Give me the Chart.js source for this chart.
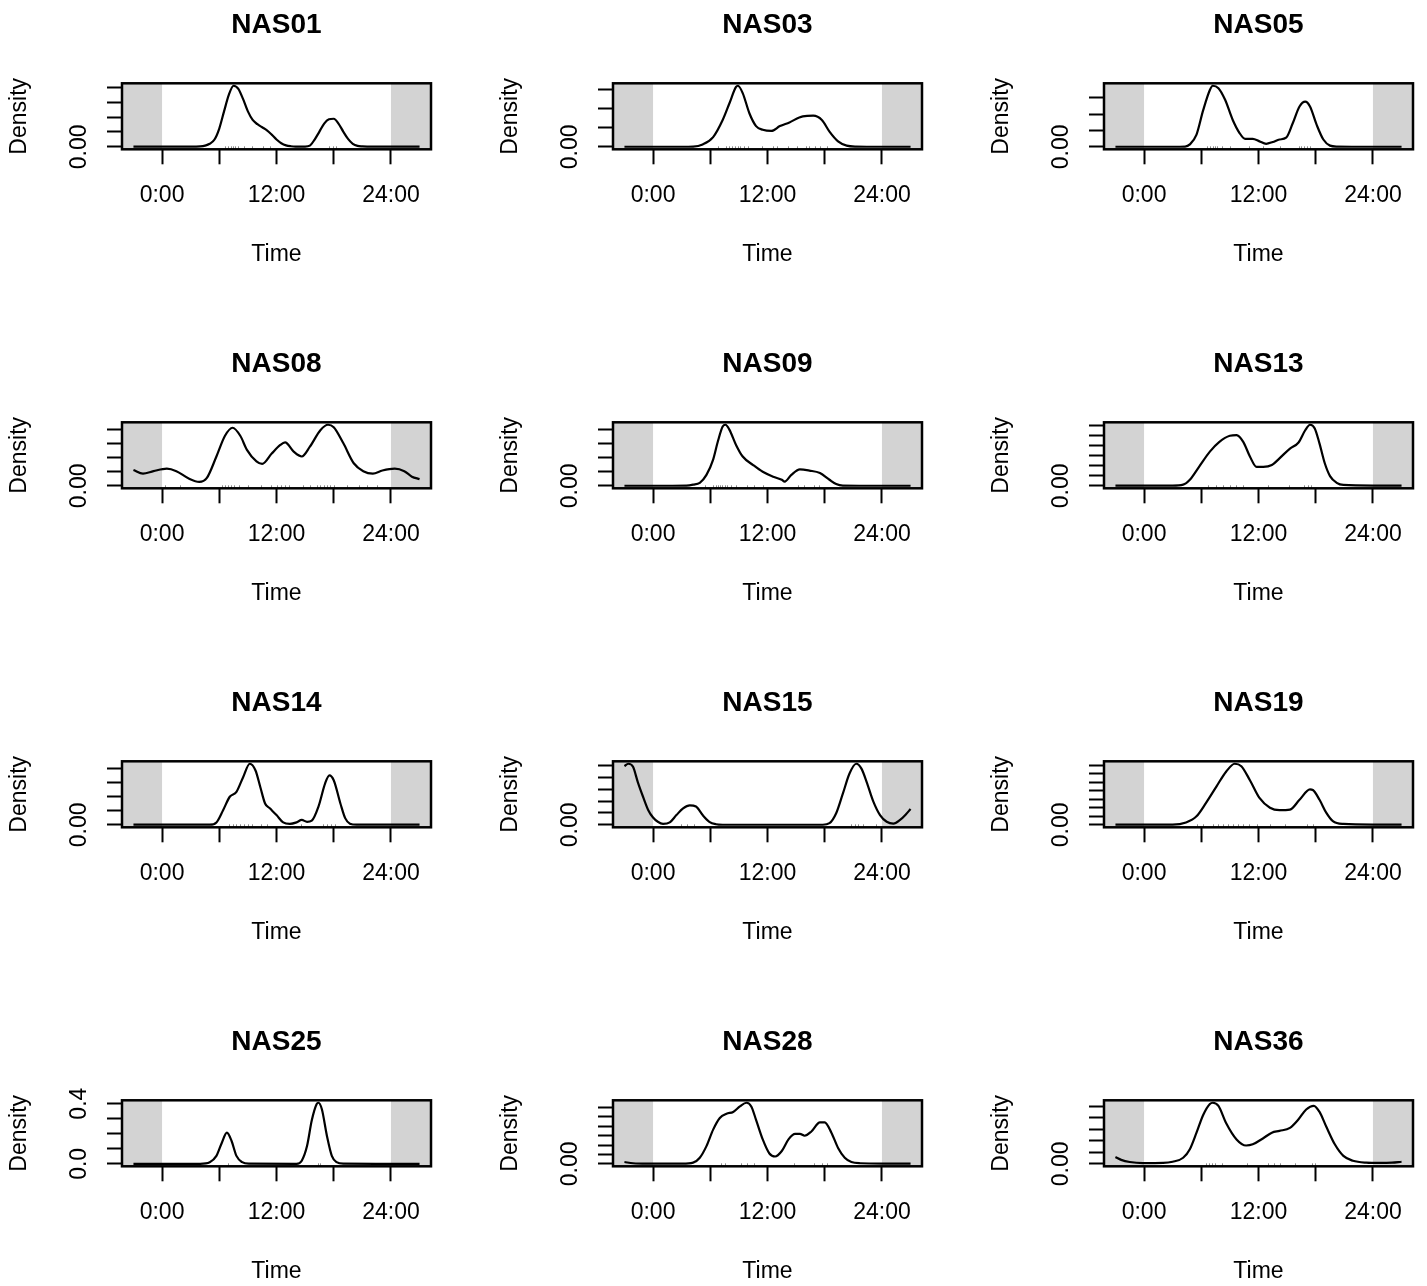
<!DOCTYPE html>
<html>
<head>
<meta charset="utf-8">
<script src="https://cdn.jsdelivr.net/npm/chart.js@4.4.1/dist/chart.umd.min.js"></script>
<style>
  html, body { margin: 0; padding: 0; background: #ffffff; overflow: hidden; width: 1427px; height: 1286px; }
  canvas { position: absolute; }
</style>
</head>
<body>
<script>
// ---- panel titles, in reading order (4 rows x 3 columns) ----
const panelNames = ['NAS01', 'NAS03', 'NAS05', 'NAS08', 'NAS09', 'NAS13',
                    'NAS14', 'NAS15', 'NAS19', 'NAS25', 'NAS28', 'NAS36'];

// ---- x axis: clock time in hours ----
const hourTicks = [0, 6, 12, 18, 24];
const hourTickLabels = ['0:00', '', '12:00', '', '24:00'];

// ---- activity density curves (hours, density per hour) ----
const nas01Hours = [-3, 0, 3, 4, 4.5, 5, 5.5, 6, 6.5, 7, 7.5, 8, 8.5, 9, 9.5, 10, 10.5, 11, 11.5, 12, 12.5, 13, 13.5, 14, 15, 15.5, 16, 16.5, 17, 17.5, 18, 18.5, 19, 19.5, 20, 20.5, 21, 22, 24, 27];
const nas01Density = [0.0006, 0.0006, 0.0006, 0.0016, 0.0041, 0.0103, 0.0246, 0.0615, 0.1189, 0.1743, 0.205, 0.1948, 0.1599, 0.1189, 0.0902, 0.0759, 0.0656, 0.0554, 0.041, 0.0246, 0.0123, 0.0051, 0.0021, 0.001, 0.001, 0.0041, 0.0246, 0.0513, 0.0779, 0.0923, 0.0943, 0.0779, 0.0513, 0.0267, 0.0103, 0.0031, 0.0016, 0.0006, 0.0006, 0.0006];

const nas03Hours = [-3, 0, 3, 4.2, 5.2, 6.3, 7.3, 8.0, 8.7, 8.9, 9.4, 10.1, 10.8, 11.5, 12.4, 13.3, 14.3, 15.7, 16.8, 17.7, 18.5, 19.4, 20.3, 21.3, 24, 27];
const nas03Density = [0.0003, 0.0003, 0.0003, 0.0008, 0.0064, 0.0256, 0.0704, 0.1136, 0.1568, 0.16, 0.1408, 0.088, 0.0544, 0.0448, 0.0416, 0.0544, 0.064, 0.08, 0.0816, 0.0704, 0.04, 0.0144, 0.0032, 0.0008, 0.0003, 0.0003];

const nas05Hours = [-3, 0, 3, 4.3, 4.8, 5.5, 6.2, 6.9, 7.2, 7.8, 8.5, 9.3, 10.0, 10.6, 11.4, 12.1, 12.8, 13.5, 14.2, 14.9, 15.6, 16.3, 16.9, 17.4, 18.1, 18.8, 19.5, 20.2, 24, 27];
const nas05Density = [0.0003, 0.0003, 0.0003, 0.0009, 0.0075, 0.0375, 0.1125, 0.1744, 0.1875, 0.18, 0.1444, 0.0825, 0.0431, 0.0244, 0.0244, 0.0169, 0.0094, 0.015, 0.0225, 0.0281, 0.0731, 0.1238, 0.1388, 0.1238, 0.0675, 0.0225, 0.0038, 0.0009, 0.0003, 0.0003];

const nas08Hours = [-3, -2, -0.9, 0.5, 1.5, 2.8, 3.9, 4.7, 5.7, 6.6, 7.4, 8.2, 8.9, 9.9, 10.5, 11.5, 12.4, 12.9, 13.8, 14.65, 15.5, 16.6, 17.4, 18.0, 19.0, 20.1, 21.1, 22.1, 23.1, 24.4, 25.4, 26.2, 27];
const nas08Density = [0.0226, 0.0174, 0.0209, 0.0244, 0.0209, 0.0104, 0.0056, 0.0113, 0.0418, 0.0713, 0.0827, 0.0713, 0.0513, 0.0348, 0.0313, 0.0461, 0.0583, 0.0618, 0.0487, 0.0418, 0.0557, 0.0792, 0.087, 0.0835, 0.0609, 0.0322, 0.0209, 0.0174, 0.0218, 0.0244, 0.0209, 0.0131, 0.0096];

const nas09Hours = [-3, 0, 3.5, 4.2, 4.9, 5.6, 6.3, 6.8, 7.3, 7.6, 8.0, 8.7, 9.4, 10.5, 11.5, 12.6, 13.5, 13.8, 14.5, 15.4, 16.4, 17.5, 18.5, 19.2, 19.9, 24, 27];
const nas09Density = [0.0004, 0.0004, 0.0011, 0.0044, 0.0109, 0.0392, 0.0937, 0.1591, 0.2115, 0.218, 0.2006, 0.1461, 0.1046, 0.0741, 0.0501, 0.0327, 0.0218, 0.0153, 0.0392, 0.0589, 0.0545, 0.0458, 0.0218, 0.0065, 0.0011, 0.0004, 0.0004];

const nas13Hours = [-3, 0, 3.0, 4.1, 4.8, 5.8, 6.9, 7.9, 9.0, 9.7, 10.4, 11.1, 11.8, 12.5, 13.4, 14.2, 15.3, 16.2, 16.9, 17.4, 17.9, 18.4, 18.95, 19.5, 20.2, 20.9, 24, 27];
const nas13Density = [0.0006, 0.0006, 0.0006, 0.0024, 0.0122, 0.039, 0.0683, 0.0878, 0.1, 0.1013, 0.0878, 0.0586, 0.0378, 0.0378, 0.0415, 0.0549, 0.0744, 0.0866, 0.111, 0.122, 0.1147, 0.0842, 0.0451, 0.0195, 0.0061, 0.0018, 0.0006, 0.0006];

const nas14Hours = [-3, 0, 5.0, 5.7, 6.4, 7.1, 7.8, 8.5, 9.2, 9.8, 10.3, 10.8, 11.3, 12.0, 12.7, 13.4, 14.1, 14.65, 15.2, 15.7, 16.4, 17.1, 17.55, 18.0, 18.7, 19.2, 19.7, 20.4, 24, 27];
const nas14Density = [0.0006, 0.0006, 0.0006, 0.0086, 0.0516, 0.0989, 0.1161, 0.1677, 0.215, 0.1914, 0.1333, 0.0753, 0.0581, 0.0344, 0.0086, 0.0034, 0.0086, 0.0172, 0.0108, 0.0151, 0.0645, 0.1462, 0.1742, 0.157, 0.0753, 0.0237, 0.0043, 0.0006, 0.0006, 0.0006];

const nas15Hours = [-3, -2.6, -2.1, -1.6, -1.05, -0.5, 0, 0.5, 1.05, 1.75, 2.45, 3.15, 3.85, 4.5, 5.2, 5.9, 6.6, 7.3, 17.8, 18.5, 19.2, 19.9, 20.6, 21.3, 21.85, 22.4, 23.1, 23.8, 24.5, 25.2, 25.9, 26.5, 27];
const nas15Density = [0.2467, 0.257, 0.2442, 0.1799, 0.1182, 0.0617, 0.0308, 0.0129, 0.0041, 0.0103, 0.0411, 0.0694, 0.0822, 0.0771, 0.0411, 0.0129, 0.0026, 0.0005, 0.0005, 0.0069, 0.0488, 0.1311, 0.2159, 0.257, 0.2364, 0.1799, 0.0977, 0.0411, 0.0129, 0.0051, 0.0206, 0.0437, 0.0668];

const nas19Hours = [-3, 0, 3.0, 4.4, 5.5, 6.5, 7.6, 8.6, 9.5, 10.2, 11.1, 12.1, 13.2, 14.2, 15.3, 16.3, 17.4, 17.7, 18.4, 19.1, 19.8, 20.9, 24, 27];
const nas19Density = [0.0007, 0.0007, 0.0007, 0.0057, 0.02, 0.0515, 0.0901, 0.1244, 0.143, 0.1373, 0.1044, 0.0629, 0.04, 0.0343, 0.0358, 0.0586, 0.0829, 0.0815, 0.0586, 0.0286, 0.0086, 0.0021, 0.0007, 0.0007];

const nas25Hours = [-3, 0, 4.0, 5.0, 5.7, 6.26, 6.8, 7.3, 7.8, 8.4, 9.1, 14.1, 14.65, 15.2, 15.7, 16.2, 16.4, 16.75, 17.3, 17.8, 18.3, 19.0, 24, 27];
const nas25Density = [0.0005, 0.0005, 0.0005, 0.011, 0.053, 0.139, 0.207, 0.15, 0.053, 0.011, 0.001, 0.0005, 0.021, 0.118, 0.289, 0.396, 0.406, 0.364, 0.182, 0.053, 0.011, 0.001, 0.0005, 0.0005];

const nas28Hours = [-3, -2.1, -0.7, 3.1, 4.2, 4.9, 5.6, 6.3, 7.0, 7.7, 8.4, 9.1, 9.8, 10.3, 10.8, 11.5, 12.2, 12.8, 13.5, 14.2, 14.9, 15.4, 15.9, 16.6, 17.5, 18.0, 18.7, 19.4, 20.1, 20.8, 21.7, 24, 27];
const nas28Density = [0.0039, 0.0013, 0.0004, 0.0004, 0.0026, 0.013, 0.0377, 0.0728, 0.0975, 0.1066, 0.1105, 0.1222, 0.13, 0.1222, 0.0936, 0.052, 0.0221, 0.0156, 0.0273, 0.052, 0.0637, 0.0637, 0.0598, 0.0689, 0.0884, 0.0884, 0.0663, 0.0338, 0.013, 0.0039, 0.0013, 0.0007, 0.0007];

const nas36Hours = [-3, -2.4, -1.5, -0.1, 2.0, 3.0, 4.1, 4.8, 5.5, 6.2, 6.9, 7.2, 7.8, 8.6, 9.7, 10.7, 11.4, 12.5, 13.4, 14.2, 15.3, 16.2, 17.0, 17.8, 18.4, 19.1, 20.0, 20.9, 21.9, 23.3, 24.7, 26.0, 27];
const nas36Density = [0.0117, 0.0069, 0.0032, 0.0013, 0.0016, 0.0037, 0.0106, 0.0254, 0.0541, 0.0848, 0.1039, 0.106, 0.1007, 0.071, 0.0424, 0.0318, 0.0339, 0.0445, 0.0541, 0.0572, 0.0625, 0.0774, 0.0943, 0.1007, 0.0901, 0.0647, 0.0339, 0.0138, 0.0053, 0.0021, 0.0016, 0.0021, 0.0037];

// ---- recorded detection times (rug along the bottom) ----
const nas01Rug = [6.6, 6.9, 7.2, 7.4, 7.7, 8.0, 8.6, 9.4, 10.6, 11.3, 17.5, 17.9, 18.2];
const nas03Rug = [6.8, 7.6, 8.0, 8.3, 8.6, 8.9, 9.1, 9.5, 10.0, 11.4, 12.6, 13.0, 14.2, 15.1, 16.0, 16.4, 17.0, 17.5, 18.2];
const nas05Rug = [6.6, 6.9, 7.2, 7.4, 7.7, 8.2, 9.0, 11.0, 12.5, 14.3, 16.2, 16.5, 16.8, 17.1, 17.4];
const nas08Rug = [0.3, 1.9, 6.3, 6.6, 6.9, 7.2, 7.5, 8.1, 9.0, 10.4, 11.4, 12.1, 12.5, 12.9, 13.3, 14.8, 15.5, 16.2, 16.6, 17.0, 17.3, 17.6, 18.0, 19.4, 20.6, 21.5, 22.5];
const nas09Rug = [5.4, 6.3, 6.6, 6.8, 7.0, 7.2, 7.5, 7.8, 8.2, 8.7, 9.8, 10.6, 11.5, 15.2, 15.8, 16.9, 17.4];
const nas13Rug = [6.7, 7.5, 8.3, 9.0, 9.6, 10.4, 13.0, 15.2, 16.8, 17.2, 17.5];
const nas14Rug = [7.0, 7.4, 7.8, 8.2, 8.6, 9.0, 9.4, 10.4, 11.0, 14.6, 16.9, 17.3, 17.7, 18.1];
const nas15Rug = [2.9, 3.6, 4.3, 20.8, 21.2, 21.5, 22.0, 23.4];
const nas19Rug = [5.5, 6.2, 7.2, 7.8, 8.3, 8.8, 9.3, 9.8, 10.4, 11.0, 11.8, 13.2, 14.8, 17.1, 17.7];
const nas25Rug = [6.9, 16.4, 16.6];
const nas28Rug = [7.1, 7.5, 9.2, 9.8, 10.6, 14.8, 16.9, 17.7, 18.2];
const nas36Rug = [6.5, 6.8, 7.1, 7.4, 8.2, 10.8, 13.0, 13.6, 14.3, 15.8, 17.6, 17.9];

// ---- y axis tick positions per panel ----
const yTicksNAS01 = [0, 0.05, 0.1, 0.15, 0.2];
const yTicksNAS03 = [0, 0.05, 0.1, 0.15];
const yTicksNAS05 = [0, 0.05, 0.1, 0.15];
const yTicksNAS08 = [0, 0.02, 0.04, 0.06, 0.08];
const yTicksNAS09 = [0, 0.05, 0.1, 0.15, 0.2];
const yTicksNAS13 = [0, 0.02, 0.04, 0.06, 0.08, 0.1, 0.12];
const yTicksNAS14 = [0, 0.05, 0.1, 0.15, 0.2];
const yTicksNAS15 = [0, 0.05, 0.1, 0.15, 0.2, 0.25];
const yTicksNAS19 = [0, 0.02, 0.04, 0.06, 0.08, 0.1, 0.12, 0.14];
const yTicksNAS25 = [0, 0.1, 0.2, 0.3, 0.4];
const yTicksNAS28 = [0, 0.02, 0.04, 0.06, 0.08, 0.1, 0.12];
const yTicksNAS36 = [0, 0.02, 0.04, 0.06, 0.08, 0.1];

// only the non-overlapping y labels are printed
const yLabelValuesDefault = [0];
const yLabelTextsDefault = ['0.00'];
const yLabelValuesNAS25 = [0, 0.4];
const yLabelTextsNAS25 = ['0.0', '0.4'];

const panels = [
  { hours: nas01Hours, density: nas01Density, rug: nas01Rug, yTicks: yTicksNAS01 },
  { hours: nas03Hours, density: nas03Density, rug: nas03Rug, yTicks: yTicksNAS03 },
  { hours: nas05Hours, density: nas05Density, rug: nas05Rug, yTicks: yTicksNAS05 },
  { hours: nas08Hours, density: nas08Density, rug: nas08Rug, yTicks: yTicksNAS08 },
  { hours: nas09Hours, density: nas09Density, rug: nas09Rug, yTicks: yTicksNAS09 },
  { hours: nas13Hours, density: nas13Density, rug: nas13Rug, yTicks: yTicksNAS13 },
  { hours: nas14Hours, density: nas14Density, rug: nas14Rug, yTicks: yTicksNAS14 },
  { hours: nas15Hours, density: nas15Density, rug: nas15Rug, yTicks: yTicksNAS15 },
  { hours: nas19Hours, density: nas19Density, rug: nas19Rug, yTicks: yTicksNAS19 },
  { hours: nas25Hours, density: nas25Density, rug: nas25Rug, yTicks: yTicksNAS25,
    yLabelValues: yLabelValuesNAS25, yLabelTexts: yLabelTextsNAS25 },
  { hours: nas28Hours, density: nas28Density, rug: nas28Rug, yTicks: yTicksNAS28 },
  { hours: nas36Hours, density: nas36Density, rug: nas36Rug, yTicks: yTicksNAS36 }
];

// ---- layout of the 4 x 3 grid ----
const FONT = '"Liberation Sans", Arial, Helvetica, sans-serif';
const CANVAS_W = 440, CANVAS_H = 339;
const COL_PITCH = 491.15, ROW_PITCH = 339.13;
const PLOT_LEFT = 122, PLOT_TOP = 83.3, PLOT_W = 309, PLOT_H = 66;
const X_MIN = -4.2, X_MAX = 28.2;   // data range -3..27 plus 4% on each side

Chart.defaults.font.family = FONT;
Chart.defaults.color = '#000';

panels.forEach((p, i) => {
  const name = panelNames[i];
  const col = i % 3, row = Math.floor(i / 3);
  const canvas = document.createElement('canvas');
  canvas.width = CANVAS_W;
  canvas.height = CANVAS_H;
  canvas.style.left = Math.round(col * COL_PITCH) + 'px';
  canvas.style.top = Math.round(row * ROW_PITCH) + 'px';
  document.body.appendChild(canvas);

  const yMax = Math.max(...p.density);
  const labelValues = p.yLabelValues || yLabelValuesDefault;
  const labelTexts = p.yLabelTexts || yLabelTextsDefault;

  // shading outside 0:00-24:00, rug, frame, panel title and y labels
  const decor = {
    id: 'panelDecor',
    beforeDatasetsDraw(chart) {
      const { ctx, chartArea: a, scales: { x } } = chart;
      const x0 = x.getPixelForValue(0), x24 = x.getPixelForValue(24);
      ctx.save();
      ctx.fillStyle = '#D3D3D3';
      ctx.fillRect(a.left, a.top, x0 - a.left, a.height);
      ctx.fillRect(x24, a.top, a.right - x24, a.height);
      ctx.restore();
    },
    afterDatasetsDraw(chart) {
      const { ctx, chartArea: a, scales: { x, y } } = chart;
      ctx.save();
      ctx.strokeStyle = 'rgba(0,0,0,0.45)';
      ctx.lineWidth = 1;
      p.rug.forEach(h => {
        const px = Math.round(x.getPixelForValue(h)) + 0.5;
        ctx.beginPath();
        ctx.moveTo(px, a.bottom);
        ctx.lineTo(px, a.bottom - 3);
        ctx.stroke();
      });
      ctx.strokeStyle = '#000';
      ctx.lineWidth = 2.5;
      ctx.strokeRect(a.left, a.top, a.right - a.left, a.bottom - a.top);

      ctx.fillStyle = '#000';
      ctx.textAlign = 'center';
      ctx.textBaseline = 'middle';
      ctx.font = 'bold 28px ' + FONT;
      ctx.fillText(name, (a.left + a.right) / 2, 25.3);

      ctx.font = '23px ' + FONT;
      labelValues.forEach((v, k) => {
        ctx.save();
        ctx.translate(a.left - 42, y.getPixelForValue(v));
        ctx.rotate(-Math.PI / 2);
        ctx.fillText(labelTexts[k], 0, 0);
        ctx.restore();
      });
      ctx.restore();
    }
  };

  const tickGrid = {
    drawOnChartArea: false,
    drawTicks: true,
    tickLength: 15,
    tickWidth: 2,
    tickColor: '#000'
  };

  new Chart(canvas, {
    type: 'line',
    data: {
      datasets: [{
        data: p.hours.map((h, k) => ({ x: h, y: p.density[k] })),
        borderColor: '#000',
        borderWidth: 2.2,
        pointRadius: 0,
        fill: false,
        cubicInterpolationMode: 'monotone'
      }]
    },
    options: {
      responsive: false,
      animation: false,
      events: [],
      layout: { padding: { top: PLOT_TOP, left: 0, right: CANVAS_W - PLOT_LEFT - PLOT_W, bottom: 0 } },
      plugins: { legend: { display: false }, tooltip: { enabled: false }, title: { display: false } },
      scales: {
        x: {
          type: 'linear',
          position: 'bottom',
          min: X_MIN,
          max: X_MAX,
          afterBuildTicks: s => { s.ticks = hourTicks.map(v => ({ value: v })); },
          afterFit: s => { s.height = CANVAS_H - PLOT_TOP - PLOT_H; },
          grid: tickGrid,
          border: { display: false },
          ticks: {
            autoSkip: false,
            maxRotation: 0,
            minRotation: 0,
            padding: 18,
            color: '#000',
            font: { size: 23, family: FONT },
            callback: v => {
              const k = hourTicks.indexOf(v);
              return k >= 0 ? hourTickLabels[k] : '';
            }
          },
          title: {
            display: true,
            text: 'Time',
            color: '#000',
            font: { size: 23, family: FONT },
            padding: { top: 0, bottom: 71 }
          }
        },
        y: {
          type: 'linear',
          position: 'left',
          min: -0.04 * yMax,
          max: 1.04 * yMax,
          afterBuildTicks: s => { s.ticks = p.yTicks.map(v => ({ value: v })); },
          afterFit: s => { s.width = PLOT_LEFT; },
          grid: tickGrid,
          border: { display: false },
          ticks: { display: false },
          title: {
            display: true,
            text: 'Density',
            color: '#000',
            font: { size: 23, family: FONT },
            padding: { top: 6, bottom: 0 }
          }
        }
      }
    },
    plugins: [decor]
  });
});
</script>
</body>
</html>
